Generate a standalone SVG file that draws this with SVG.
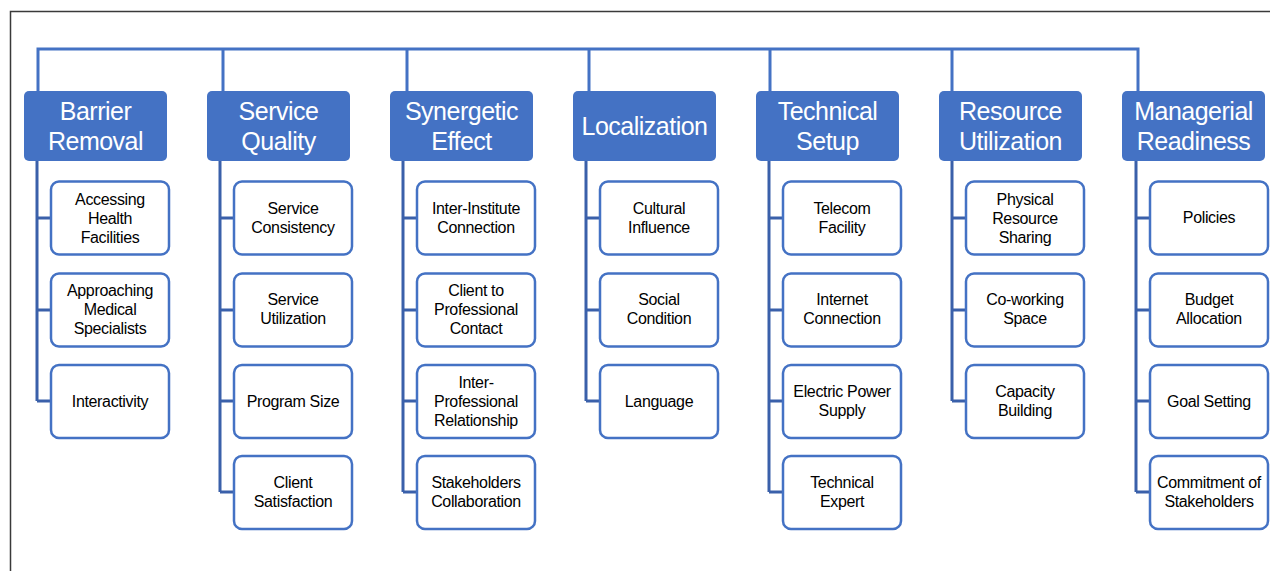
<svg xmlns="http://www.w3.org/2000/svg" width="1270" height="571" viewBox="0 0 1270 571">
<style>
.hd{fill:#4472C4;}
.ht{font-family:"Liberation Sans",Arial,sans-serif;font-size:25px;fill:#fff;text-anchor:middle;letter-spacing:-0.5px;}
.cb{fill:#fff;stroke:#4472C4;stroke-width:2.5;}
.ct{font-family:"Liberation Sans",Arial,sans-serif;font-size:16px;fill:#000;text-anchor:middle;letter-spacing:-0.35px;}
.bus{fill:none;stroke:#4472C4;stroke-width:3;}
.cn{fill:none;stroke:#3A60AA;stroke-width:3;}
</style>
<rect width="1270" height="571" fill="#fff"/>
<path d="M10.5,571 V11.5 H1270" fill="none" stroke="#3a3a3a" stroke-width="1.5"/>
<g id="connectors">
<path class="bus" d="M38,91 V49 H1138 V91"/>
<path class="bus" d="M223,49 V91 M407,49 V91 M589,49 V91 M770,49 V91 M952,49 V91"/>
<path class="cn" d="M37,161 V401 M37,218 H51 M37,310 H51 M37,401 H51"/>
<path class="cn" d="M220,161 V492 M220,218 H234 M220,310 H234 M220,401 H234 M220,492 H234"/>
<path class="cn" d="M403,161 V492 M403,218 H417 M403,310 H417 M403,401 H417 M403,492 H417"/>
<path class="cn" d="M586,161 V401 M586,218 H600 M586,310 H600 M586,401 H600"/>
<path class="cn" d="M769,161 V492 M769,218 H783 M769,310 H783 M769,401 H783 M769,492 H783"/>
<path class="cn" d="M952,161 V401 M952,218 H966 M952,310 H966 M952,401 H966"/>
<path class="cn" d="M1136,161 V492 M1136,218 H1150 M1136,310 H1150 M1136,401 H1150 M1136,492 H1150"/>
</g>
<g id="h1"><rect class="hd" x="24" y="91" width="143" height="70" rx="5"/><text class="ht" x="95.5" y="120">Barrier</text><text class="ht" x="95.5" y="150">Removal</text></g>
<g id="h2"><rect class="hd" x="207" y="91" width="143" height="70" rx="5"/><text class="ht" x="278.5" y="120">Service</text><text class="ht" x="278.5" y="150">Quality</text></g>
<g id="h3"><rect class="hd" x="390" y="91" width="143" height="70" rx="5"/><text class="ht" x="461.5" y="120">Synergetic</text><text class="ht" x="461.5" y="150">Effect</text></g>
<g id="h4"><rect class="hd" x="573" y="91" width="143" height="70" rx="5"/><text class="ht" x="644.5" y="135">Localization</text></g>
<g id="h5"><rect class="hd" x="756" y="91" width="143" height="70" rx="5"/><text class="ht" x="827.5" y="120">Technical</text><text class="ht" x="827.5" y="150">Setup</text></g>
<g id="h6"><rect class="hd" x="939" y="91" width="143" height="70" rx="5"/><text class="ht" x="1010.5" y="120">Resource</text><text class="ht" x="1010.5" y="150">Utilization</text></g>
<g id="h7"><rect class="hd" x="1122" y="91" width="143" height="70" rx="5"/><text class="ht" x="1193.5" y="120">Managerial</text><text class="ht" x="1193.5" y="150">Readiness</text></g>

<g id="c1a"><rect class="cb" x="51" y="181.5" width="118" height="73" rx="8"/><text class="ct" x="110" y="205">Accessing</text><text class="ct" x="110" y="224">Health</text><text class="ct" x="110" y="243">Facilities</text></g>
<g id="c1b"><rect class="cb" x="51" y="273.5" width="118" height="73" rx="8"/><text class="ct" x="110" y="296">Approaching</text><text class="ct" x="110" y="315">Medical</text><text class="ct" x="110" y="334">Specialists</text></g>
<g id="c1c"><rect class="cb" x="51" y="365" width="118" height="73" rx="8"/><text class="ct" x="110" y="407">Interactivity</text></g>

<g id="c2a"><rect class="cb" x="234" y="181.5" width="118" height="73" rx="8"/><text class="ct" x="293" y="214">Service</text><text class="ct" x="293" y="233">Consistency</text></g>
<g id="c2b"><rect class="cb" x="234" y="273.5" width="118" height="73" rx="8"/><text class="ct" x="293" y="305">Service</text><text class="ct" x="293" y="324">Utilization</text></g>
<g id="c2c"><rect class="cb" x="234" y="365" width="118" height="73" rx="8"/><text class="ct" x="293" y="407">Program Size</text></g>
<g id="c2d"><rect class="cb" x="234" y="456" width="118" height="73" rx="8"/><text class="ct" x="293" y="488">Client</text><text class="ct" x="293" y="507">Satisfaction</text></g>

<g id="c3a"><rect class="cb" x="417" y="181.5" width="118" height="73" rx="8"/><text class="ct" x="476" y="214">Inter-Institute</text><text class="ct" x="476" y="233">Connection</text></g>
<g id="c3b"><rect class="cb" x="417" y="273.5" width="118" height="73" rx="8"/><text class="ct" x="476" y="296">Client to</text><text class="ct" x="476" y="315">Professional</text><text class="ct" x="476" y="334">Contact</text></g>
<g id="c3c"><rect class="cb" x="417" y="365" width="118" height="73" rx="8"/><text class="ct" x="476" y="388">Inter-</text><text class="ct" x="476" y="407">Professional</text><text class="ct" x="476" y="426">Relationship</text></g>
<g id="c3d"><rect class="cb" x="417" y="456" width="118" height="73" rx="8"/><text class="ct" x="476" y="488">Stakeholders</text><text class="ct" x="476" y="507">Collaboration</text></g>

<g id="c4a"><rect class="cb" x="600" y="181.5" width="118" height="73" rx="8"/><text class="ct" x="659" y="214">Cultural</text><text class="ct" x="659" y="233">Influence</text></g>
<g id="c4b"><rect class="cb" x="600" y="273.5" width="118" height="73" rx="8"/><text class="ct" x="659" y="305">Social</text><text class="ct" x="659" y="324">Condition</text></g>
<g id="c4c"><rect class="cb" x="600" y="365" width="118" height="73" rx="8"/><text class="ct" x="659" y="407">Language</text></g>

<g id="c5a"><rect class="cb" x="783" y="181.5" width="118" height="73" rx="8"/><text class="ct" x="842" y="214">Telecom</text><text class="ct" x="842" y="233">Facility</text></g>
<g id="c5b"><rect class="cb" x="783" y="273.5" width="118" height="73" rx="8"/><text class="ct" x="842" y="305">Internet</text><text class="ct" x="842" y="324">Connection</text></g>
<g id="c5c"><rect class="cb" x="783" y="365" width="118" height="73" rx="8"/><text class="ct" x="842" y="397">Electric Power</text><text class="ct" x="842" y="416">Supply</text></g>
<g id="c5d"><rect class="cb" x="783" y="456" width="118" height="73" rx="8"/><text class="ct" x="842" y="488">Technical</text><text class="ct" x="842" y="507">Expert</text></g>

<g id="c6a"><rect class="cb" x="966" y="181.5" width="118" height="73" rx="8"/><text class="ct" x="1025" y="205">Physical</text><text class="ct" x="1025" y="224">Resource</text><text class="ct" x="1025" y="243">Sharing</text></g>
<g id="c6b"><rect class="cb" x="966" y="273.5" width="118" height="73" rx="8"/><text class="ct" x="1025" y="305">Co-working</text><text class="ct" x="1025" y="324">Space</text></g>
<g id="c6c"><rect class="cb" x="966" y="365" width="118" height="73" rx="8"/><text class="ct" x="1025" y="397">Capacity</text><text class="ct" x="1025" y="416">Building</text></g>

<g id="c7a"><rect class="cb" x="1150" y="181.5" width="118" height="73" rx="8"/><text class="ct" x="1209" y="223">Policies</text></g>
<g id="c7b"><rect class="cb" x="1150" y="273.5" width="118" height="73" rx="8"/><text class="ct" x="1209" y="305">Budget</text><text class="ct" x="1209" y="324">Allocation</text></g>
<g id="c7c"><rect class="cb" x="1150" y="365" width="118" height="73" rx="8"/><text class="ct" x="1209" y="407">Goal Setting</text></g>
<g id="c7d"><rect class="cb" x="1150" y="456" width="118" height="73" rx="8"/><text class="ct" x="1209" y="488">Commitment of</text><text class="ct" x="1209" y="507">Stakeholders</text></g>
</svg>
